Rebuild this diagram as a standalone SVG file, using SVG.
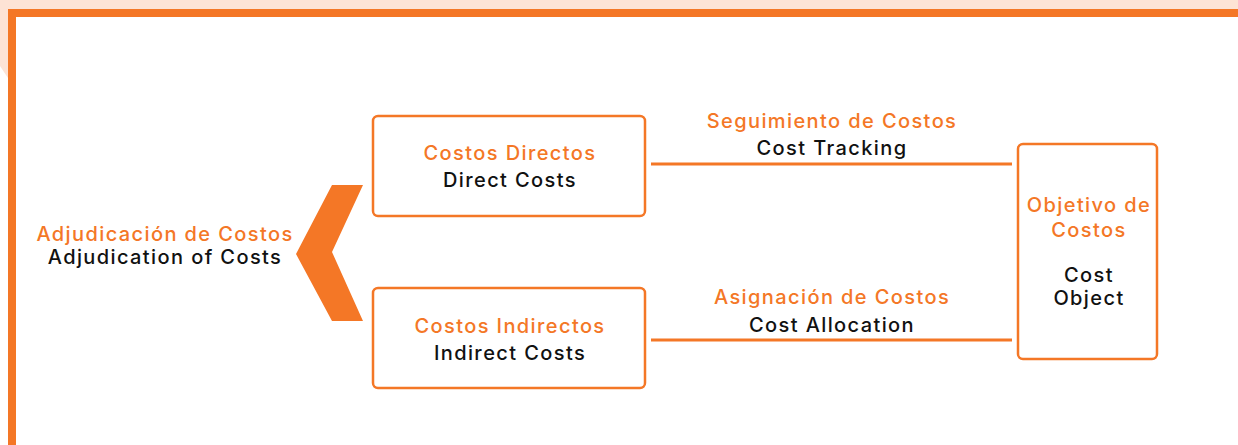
<svg xmlns="http://www.w3.org/2000/svg" width="1238" height="445" viewBox="0 0 1238 445">
<defs>
<style>
.box{fill:#fff;stroke:#F47726;stroke-width:2.5}
.t{font-family:Inter,"Liberation Sans",sans-serif;font-size:20px;letter-spacing:1.4px;text-anchor:middle;font-weight:500}
.o{fill:#F47726}
.k{fill:#111}
.ln{stroke:#F47726;stroke-width:3;fill:none}
</style>
</defs>
<rect x="0" y="0" width="1238" height="445" fill="#fff"/>
<path d="M0 0H1238V9H16V78L8 78L0 66Z" fill="#FDE3D5"/>
<rect x="8" y="9" width="1230" height="8" fill="#F47726"/>
<rect x="8" y="9" width="8" height="436" fill="#F47726"/>
<g id="adjudication">
<polygon points="332,185 363,185 332,252 363,321 332,321 296,254" fill="#F47726"/>
<text class="t o" x="165" y="241">Adjudicación de Costos</text>
<text class="t k" x="165" y="264">Adjudication of Costs</text>
</g>
<g id="direct">
<rect class="box" x="373" y="116" width="272" height="100" rx="5"/>
<text class="t o" x="510" y="160">Costos Directos</text>
<text class="t k" x="510" y="187">Direct Costs</text>
</g>
<g id="indirect">
<rect class="box" x="373" y="288" width="272" height="100" rx="5"/>
<text class="t o" x="510" y="333">Costos Indirectos</text>
<text class="t k" x="510" y="360">Indirect Costs</text>
</g>
<g id="object">
<rect class="box" x="1018" y="144" width="139" height="215" rx="5"/>
<text class="t o" x="1089" y="212">Objetivo de</text>
<text class="t o" x="1089" y="237">Costos</text>
<text class="t k" x="1089" y="282">Cost</text>
<text class="t k" x="1089" y="305">Object</text>
</g>
<g id="connectors">
<line class="ln" x1="651" y1="164" x2="1012" y2="164"/>
<line class="ln" x1="651" y1="340" x2="1012" y2="340"/>
<text class="t o" x="832" y="128">Seguimiento de Costos</text>
<text class="t k" x="832" y="155">Cost Tracking</text>
<text class="t o" x="832" y="304">Asignación de Costos</text>
<text class="t k" x="832" y="332">Cost Allocation</text>
</g>
</svg>
